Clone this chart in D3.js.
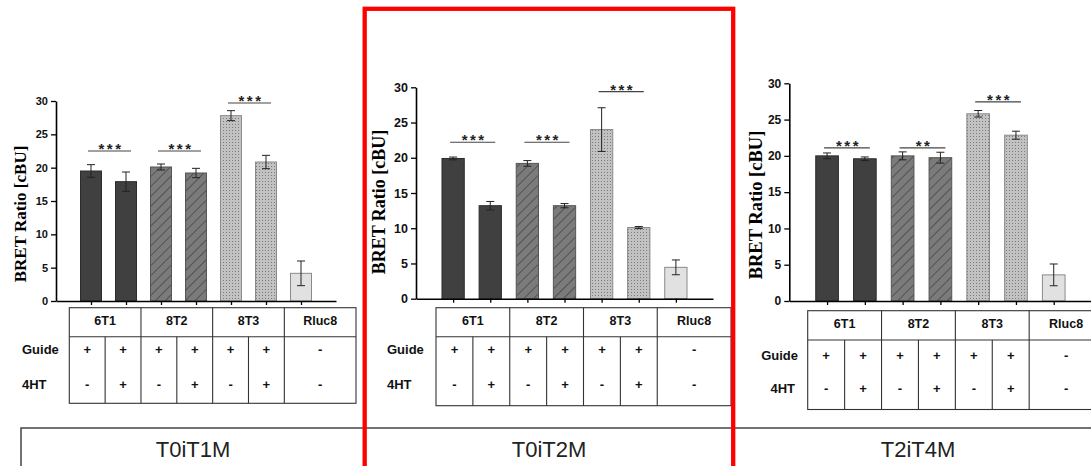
<!DOCTYPE html>
<html>
<head>
<meta charset="utf-8">
<script src="https://cdn.jsdelivr.net/npm/d3@7"></script>
<style>
  body { margin: 0; background: #fff; }
  svg { display: block; }
</style>
</head>
<body>
<div id="chart-area"></div>
<script>
// ---- data ----
var barNames = ["6T1-", "6T1+", "8T2-", "8T2+", "8T3-", "8T3+", "Rluc8"];
var barKinds = ["dark", "dark", "hatch", "hatch", "dots", "dots", "light"];
var groups = ["6T1", "8T2", "8T3", "Rluc8"];
var guideRow = ["+", "+", "+", "+", "+", "+", "-"];
var htRow = ["-", "+", "-", "+", "-", "+", "-"];
var yTicks = [0, 5, 10, 15, 20, 25, 30];
var conditions = ["T0iT1M", "T0iT2M", "T2iT4M"];

var t1Values = [19.5, 17.9, 20.1, 19.2, 27.8, 20.85, 4.15];
var t1Errors = [0.95, 1.45, 0.45, 0.7, 0.75, 1.0, 1.85];
var t1Stars = [["***", 0, 1, 22.5], ["***", 2, 3, 22.5], ["***", 4, 5, 29.7]];

var t2Values = [19.9, 13.2, 19.2, 13.2, 24.0, 10.1, 4.45];
var t2Errors = [0.2, 0.6, 0.4, 0.3, 3.1, 0.15, 1.05];
var t2Stars = [["***", 0, 1, 22.2], ["***", 2, 3, 22.2], ["***", 4, 5, 29.4]];

var t3Values = [20.0, 19.6, 20.0, 19.75, 25.8, 22.85, 3.6];
var t3Errors = [0.4, 0.25, 0.55, 0.75, 0.45, 0.55, 1.5];
var t3Stars = [["***", 0, 1, 21.1], ["**", 2, 3, 21.1], ["***", 4, 5, 27.45]];

var width = 1091, height = 466;

var svg = d3.select("#chart-area").append("svg")
    .attr("width", width)
    .attr("height", height);

// ---- fill patterns ----
var defs = svg.append("defs");

var hatch = defs.append("pattern")
    .attr("id", "hatch")
    .attr("patternUnits", "userSpaceOnUse")
    .attr("width", 7).attr("height", 7)
    .attr("patternTransform", "rotate(45)");
hatch.append("rect").attr("width", 7).attr("height", 7).attr("fill", "#7b7b7b");
hatch.append("line").attr("x1", 0).attr("y1", 0).attr("x2", 0).attr("y2", 7)
    .attr("stroke", "#3c3c3c").attr("stroke-width", 1.3);

var dots = defs.append("pattern")
    .attr("id", "dots")
    .attr("patternUnits", "userSpaceOnUse")
    .attr("width", 3).attr("height", 3);
dots.append("rect").attr("width", 3).attr("height", 3).attr("fill", "#c2c2c2");
dots.append("rect").attr("x", 1).attr("y", 1).attr("width", 1).attr("height", 1).attr("fill", "#7c7c7c");

var fills = {
    dark: "#404040",
    hatch: "url(#hatch)",
    dots: "url(#dots)",
    light: "#e1e1e1"
};
var strokes = {
    dark: "#2c2c2c",
    hatch: "#555",
    dots: "#8a8a8a",
    light: "#8a8a8a"
};

// ---- panel layouts ----
var panels = [
    {
        values: t1Values, errors: t1Errors, stars: t1Stars,
        x0: 56, x1: 336, yBottom: 301, yTop: 101, tickFont: 11, labelFont: 17,
        labelX: 20, labelY: 214,
        table: { left: 69.3, right: 356, top: 307.7, mid: 336.7, bottom: 403.3, head: 321, r1: 349, r2: 384 },
        rowX: 22, rowAnchor: "start"
    },
    {
        values: t2Values, errors: t2Errors, stars: t2Stars,
        x0: 416, x1: 713, yBottom: 298.7, yTop: 87.3, tickFont: 12.5, labelFont: 18,
        labelX: 379, labelY: 202,
        table: { left: 436, right: 731, top: 307.7, mid: 336.7, bottom: 405.7, head: 321, r1: 349, r2: 384 },
        rowX: 387, rowAnchor: "start"
    },
    {
        values: t3Values, errors: t3Errors, stars: t3Stars,
        x0: 789.3, x1: 1091.5, yBottom: 301, yTop: 83.3, tickFont: 12, labelFont: 18.5,
        labelX: 756, labelY: 205,
        table: { left: 807.7, right: 1103, top: 310.7, mid: 340, bottom: 409.5, head: 324, r1: 355, r2: 388 },
        rowX: 798, rowAnchor: "end"
    }
];

panels.forEach(function(p) {
    var g = svg.append("g");

    var xScale = d3.scalePoint().domain(barNames).range([p.x0, p.x1]).padding(1);
    var yScale = d3.scaleLinear().domain([0, 30]).range([p.yBottom, p.yTop]);
    var bw = xScale.step() * 0.6;

    var data = barNames.map(function(n, i) {
        return { name: n, kind: barKinds[i], value: p.values[i], err: p.errors[i] };
    });

    // bars
    g.selectAll("rect.bar").data(data).enter().append("rect")
        .attr("class", "bar")
        .attr("x", function(d) { return xScale(d.name) - bw / 2; })
        .attr("y", function(d) { return yScale(d.value); })
        .attr("width", bw)
        .attr("height", function(d) { return yScale(0) - yScale(d.value); })
        .style("fill", function(d) { return fills[d.kind]; })
        .style("stroke", function(d) { return strokes[d.kind]; })
        .style("stroke-width", 1);

    // error bars
    var eb = g.selectAll("g.err").data(data).enter().append("g")
        .attr("class", "err")
        .style("stroke", "#222")
        .style("stroke-width", 1);
    eb.append("line")
        .attr("x1", function(d) { return xScale(d.name); })
        .attr("x2", function(d) { return xScale(d.name); })
        .attr("y1", function(d) { return yScale(d.value + d.err); })
        .attr("y2", function(d) { return yScale(d.value - d.err); });
    eb.append("line")
        .attr("x1", function(d) { return xScale(d.name) - 4; })
        .attr("x2", function(d) { return xScale(d.name) + 4; })
        .attr("y1", function(d) { return yScale(d.value + d.err); })
        .attr("y2", function(d) { return yScale(d.value + d.err); });
    eb.append("line")
        .attr("x1", function(d) { return xScale(d.name) - 4; })
        .attr("x2", function(d) { return xScale(d.name) + 4; })
        .attr("y1", function(d) { return yScale(d.value - d.err); })
        .attr("y2", function(d) { return yScale(d.value - d.err); });

    // axes
    var yAxis = g.append("g")
        .attr("transform", "translate(" + p.x0 + ",0)")
        .call(d3.axisLeft(yScale).tickValues(yTicks).tickSize(5).tickPadding(3).tickSizeOuter(0));
    yAxis.selectAll("text")
        .style("font-family", "Arial, 'Liberation Sans', sans-serif")
        .style("font-weight", "bold")
        .style("font-size", p.tickFont + "px")
        .style("fill", "#111");
    yAxis.select(".domain").style("stroke-width", 1.6);
    yAxis.selectAll(".tick line").style("stroke-width", 1.3);

    var xAxis = g.append("g")
        .attr("transform", "translate(0," + p.yBottom + ")")
        .call(d3.axisBottom(xScale).tickSize(4).tickSizeOuter(0).tickFormat(""));
    xAxis.select(".domain").style("stroke-width", 1.6);
    xAxis.selectAll(".tick line").style("stroke-width", 1.3);

    g.append("text")
        .attr("transform", "translate(" + p.labelX + "," + p.labelY + ") rotate(-90)")
        .attr("text-anchor", "middle")
        .attr("dy", "0.35em")
        .style("font-family", "'Times New Roman', 'Liberation Serif', serif")
        .style("font-weight", "bold")
        .style("font-size", p.labelFont + "px")
        .text("BRET Ratio [cBU]");

    // significance markers
    p.stars.forEach(function(s) {
        var xa = xScale(barNames[s[1]]) - 3, xb = xScale(barNames[s[2]]) + 5;
        var yy = yScale(s[3]);
        g.append("line")
            .attr("x1", xa).attr("x2", xb).attr("y1", yy).attr("y2", yy)
            .style("stroke", "#444").style("stroke-width", 1.2);
        g.append("text")
            .attr("x", (xa + xb) / 2 + 1.5)
            .attr("y", yy + 3)
            .attr("text-anchor", "middle")
            .style("font-family", "Arial, 'Liberation Sans', sans-serif")
            .style("font-weight", "bold")
            .style("font-size", "15px")
            .style("letter-spacing", "2.5px")
            .style("fill", "#222")
            .text(s[0]);
    });

    // condition table
    var t = p.table;
    var gScale = d3.scaleBand().domain(groups).range([t.left, t.right]);
    var gw = gScale.bandwidth();
    var tb = g.append("g").style("stroke", "#333").style("stroke-width", 1.1).style("fill", "none");
    tb.append("rect")
        .attr("x", t.left).attr("y", t.top)
        .attr("width", t.right - t.left).attr("height", t.bottom - t.top);
    tb.append("line").attr("x1", t.left).attr("x2", t.right).attr("y1", t.mid).attr("y2", t.mid);
    tb.selectAll("line.gdiv").data(groups.slice(1)).enter().append("line")
        .attr("class", "gdiv")
        .attr("x1", function(d) { return gScale(d); })
        .attr("x2", function(d) { return gScale(d); })
        .attr("y1", t.top).attr("y2", t.bottom);
    tb.selectAll("line.sdiv").data(groups.slice(0, 3)).enter().append("line")
        .attr("class", "sdiv")
        .attr("x1", function(d) { return gScale(d) + gw / 2; })
        .attr("x2", function(d) { return gScale(d) + gw / 2; })
        .attr("y1", t.mid).attr("y2", t.bottom);

    function styleText(sel, size) {
        return sel.style("font-family", "Arial, 'Liberation Sans', sans-serif")
            .style("font-weight", "bold")
            .style("font-size", size + "px")
            .style("fill", "#111");
    }

    styleText(g.selectAll("text.head").data(groups).enter().append("text")
        .attr("class", "head")
        .attr("x", function(d) { return gScale(d) + gw / 2; })
        .attr("y", t.head)
        .attr("dy", "0.35em")
        .attr("text-anchor", "middle")
        .text(function(d) { return d; }), 12.5);

    function cellX(i) {
        if (i < 6) {
            return gScale(groups[Math.floor(i / 2)]) + (i % 2 + 0.5) * gw / 2;
        }
        return gScale(groups[3]) + gw / 2;
    }

    [[guideRow, t.r1], [htRow, t.r2]].forEach(function(row) {
        styleText(g.selectAll(null).data(row[0]).enter().append("text")
            .attr("x", function(d, i) { return cellX(i); })
            .attr("y", row[1])
            .attr("dy", "0.35em")
            .attr("text-anchor", "middle")
            .text(function(d) { return d; }), 13);
    });

    styleText(g.append("text")
        .attr("x", p.rowX).attr("y", t.r1).attr("dy", "0.35em")
        .attr("text-anchor", p.rowAnchor)
        .text("Guide"), 13);
    styleText(g.append("text")
        .attr("x", p.rowAnchor === "end" ? p.rowX - 3 : p.rowX).attr("y", t.r2).attr("dy", "0.35em")
        .attr("text-anchor", p.rowAnchor)
        .text("4HT"), 13);
});

// ---- condition labels along the bottom ----
var bandScale = d3.scaleOrdinal().domain(conditions).range([[21, 365], [365, 733], [733, 1103]]);
var bottom = svg.append("g");
bottom.append("rect")
    .attr("x", 21).attr("y", 428)
    .attr("width", 1103 - 21).attr("height", 60)
    .style("fill", "none").style("stroke", "#444").style("stroke-width", 1.5);
bottom.selectAll("text").data(conditions).enter().append("text")
    .attr("x", function(d) { var r = bandScale(d); return (r[0] + r[1]) / 2; })
    .attr("y", 456.5)
    .attr("text-anchor", "middle")
    .style("font-family", "Arial, 'Liberation Sans', sans-serif")
    .style("font-size", "22px")
    .style("fill", "#222")
    .text(function(d) { return d; });

// highlight box around the middle panel
svg.append("rect")
    .attr("x", 364.7).attr("y", 8.8)
    .attr("width", 733.2 - 364.7).attr("height", 480)
    .style("fill", "none").style("stroke", "#ff0000").style("stroke-width", 4.3);
</script>
</body>
</html>
